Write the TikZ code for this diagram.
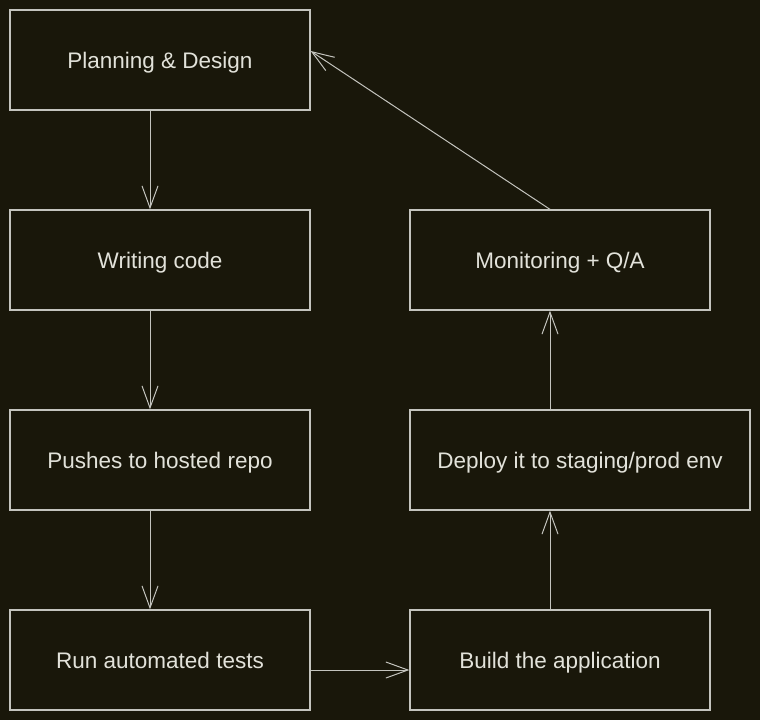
\documentclass[tikz,border=0pt]{standalone}
\usepackage{fontspec}
\setmainfont{Liberation Sans}
\usepackage{tikz}
\usetikzlibrary{arrows.meta}
\usetikzlibrary{positioning}

\definecolor{bgdark}{HTML}{19170A}
\definecolor{edgegray}{HTML}{C4C4BE}
\definecolor{textgray}{HTML}{E2E2DA}

\tikzset{
  stagebox/.style={draw=edgegray, line width=1.3pt, minimum width=300pt,
    minimum height=100pt, inner sep=0pt, text=textgray,
    text depth=-6pt, font=\fontsize{22.5}{26}\selectfont},
  flowline/.style={draw=edgegray, line width=1pt,
    arrows={-Straight Barb[length=22pt, width=16pt, line width=1pt]}}
}

\begin{document}
\begin{tikzpicture}[x=1pt, y=-1pt]
\fill[bgdark] (0,0) rectangle (760,720);
\useasboundingbox (0,0) rectangle (760,720);
\node[stagebox] (plan) at (160,60) {Planning \& Design};
\node[stagebox] (code) at (160,260) {Writing code};
\node[stagebox] (push) at (160,460) {Pushes to hosted repo};
\node[stagebox] (test) at (160,660) {Run automated tests};
\node[stagebox] (build) at (560,660) {Build the application};
\node[stagebox, minimum width=340pt] (deploy) at (580,460) {Deploy it to staging/prod env};
\node[stagebox] (monitor) at (560,260) {Monitoring + Q/A};
\draw[flowline] ([xshift=-10pt]plan.south) -- ([xshift=-10pt]code.north);
\draw[flowline] ([xshift=-10pt]code.south) -- ([xshift=-10pt]push.north);
\draw[flowline] ([xshift=-10pt]push.south) -- ([xshift=-10pt]test.north);
\draw[flowline] ([yshift=-10pt]test.east) -- ([yshift=-10pt]build.west);
\draw[flowline] ([xshift=-10pt]build.north) -- ([xshift=-10pt]build.north |- deploy.south);
\draw[flowline] ([xshift=-10pt]build.north |- deploy.north) -- ([xshift=-10pt]monitor.south);
\draw[flowline] ([xshift=-10pt]monitor.north) -- ([yshift=9pt]plan.east);
\end{tikzpicture}
\end{document}
